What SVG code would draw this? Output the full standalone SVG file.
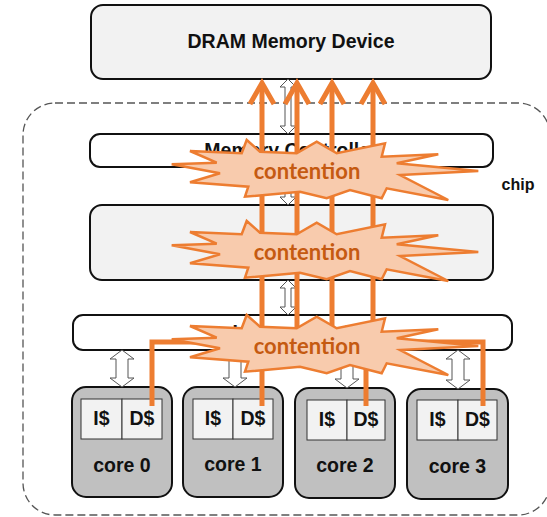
<svg xmlns="http://www.w3.org/2000/svg" xmlns:xlink="http://www.w3.org/1999/xlink" width="547" height="517" viewBox="0 0 547 517">
<style>
.lbl{font-family:"Liberation Sans",Arial,sans-serif;font-weight:bold;font-size:19.5px;fill:#111;text-anchor:middle}
.bar{stroke:#111;stroke-width:2}
.core{fill:#c0c0c0;stroke:#111;stroke-width:2}
.cache{fill:#f2f2f2;stroke:#333;stroke-width:1}
.harrow{fill:#fff;stroke:#555;stroke-width:1}
.wire{fill:none;stroke:#ED7D31;stroke-width:5;stroke-linejoin:miter}
.burst{fill:#F8CBAD;stroke:#ED7D31;stroke-width:2.5;stroke-linejoin:miter}
.ct{font-family:Lato,"Open Sans",sans-serif;font-weight:bold;font-size:22px;fill:#C55A11;text-anchor:middle}
</style>
<defs>
<polygon id="burstShape" class="burst" points="171.7,164.3 216.7,162.7 190,151 241.7,153.3 246.7,140 260,151.7 296.7,153.3 316.7,141.7 336.7,153.3 385,143.3 381.7,156.7 438.3,154.3 396.7,163.3 478.3,171 400,175 448.3,200 386.7,188.3 381.7,198.3 350,190 326.7,198.3 300,191.7 245,196.7 248.3,186.7 190,182.3 220,173.3"/>
<path id="thinArrow" class="harrow" d="M0,0 L8,7 L3,7 L3,-7 Z"/>
</defs>
<g id="chip">
<rect x="23" y="103" width="527" height="412" rx="32" fill="none" stroke="#555" stroke-width="1.3" stroke-dasharray="8 4"/>
<text x="518" y="190" class="lbl" style="font-size:16px">chip</text>
</g>
<g id="dram">
<rect x="91" y="5" width="400" height="74" rx="12" class="bar" fill="#f2f2f2"/>
<text x="291" y="48" class="lbl">DRAM Memory Device</text>
</g>
<g id="memctrl">
<rect x="90" y="134" width="403" height="33" rx="10" class="bar" fill="#fff"/>
<text x="291" y="157" class="lbl">Memory Controller</text>
</g>
<g id="sharedcache">
<rect x="90" y="205" width="403" height="75" rx="12" class="bar" fill="#f2f2f2"/>
<text x="291" y="249" class="lbl">Shared Cache</text>
</g>
<g id="interconnect">
<rect x="73" y="315" width="439" height="35" rx="10" class="bar" fill="#fff"/>
<text x="291" y="339" class="lbl">Interconnect</text>
</g>
<g id="core0">
<rect x="72" y="387" width="100" height="110" rx="14" class="core"/>
<rect x="81" y="399" width="41" height="40" class="cache"/>
<rect x="122" y="399" width="40" height="40" class="cache"/>
<text x="101.5" y="425" class="lbl">I$</text>
<text x="142" y="425" class="lbl">D$</text>
<text x="122" y="472" class="lbl">core 0</text>
</g>
<g id="core1">
<rect x="183" y="387" width="100" height="110" rx="14" class="core"/>
<rect x="193" y="399" width="40" height="40" class="cache"/>
<rect x="233" y="399" width="40" height="40" class="cache"/>
<text x="213" y="425" class="lbl">I$</text>
<text x="253" y="425" class="lbl">D$</text>
<text x="233" y="471" class="lbl">core 1</text>
</g>
<g id="core2">
<rect x="295" y="388" width="100" height="110" rx="14" class="core"/>
<rect x="307" y="400" width="40" height="40" class="cache"/>
<rect x="347" y="400" width="38" height="40" class="cache"/>
<text x="327" y="426" class="lbl">I$</text>
<text x="366" y="426" class="lbl">D$</text>
<text x="345" y="472" class="lbl">core 2</text>
</g>
<g id="core3">
<rect x="407" y="389" width="101" height="110" rx="14" class="core"/>
<rect x="417" y="400" width="41" height="40" class="cache"/>
<rect x="458" y="400" width="39" height="40" class="cache"/>
<text x="437.5" y="426" class="lbl">I$</text>
<text x="477.5" y="426" class="lbl">D$</text>
<text x="457.5" y="473" class="lbl">core 3</text>
</g>
<g id="connectors">
<path class="harrow" d="M288,79 L296,87 L291,87 L291,126 L296,126 L288,134 L280,126 L285,126 L285,87 L280,87 Z"/>
<path class="harrow" d="M288,167 L296,175 L291,175 L291,197 L296,197 L288,205 L280,197 L285,197 L285,175 L280,175 Z"/>
<path class="harrow" d="M288,280 L296,288 L291,288 L291,307 L296,307 L288,315 L280,307 L285,307 L285,288 L280,288 Z"/>
<path class="harrow" d="M122,350 L134,359 L128,359 L128,378 L134,378 L122,387 L110,378 L116,378 L116,359 L110,359 Z"/>
<path class="harrow" d="M235,350 L247,359 L241,359 L241,378 L247,378 L235,387 L223,378 L229,378 L229,359 L223,359 Z"/>
<path class="harrow" d="M347,350 L359,359 L353,359 L353,379 L359,379 L347,388 L335,379 L341,379 L341,359 L335,359 Z"/>
<path class="harrow" d="M458,350 L470,359 L464,359 L464,380 L470,380 L458,389 L446,380 L452,380 L452,359 L446,359 Z"/>
<path class="wire" d="M262,406 V83"/>
<path class="wire" d="M152,406 V342 H297 V83"/>
<path class="wire" d="M366,406 V336 H373 V83"/>
<path class="wire" d="M483,406 V342 H332 V83"/>
<polyline class="wire" points="250,104 262,83 274,104"/>
<polyline class="wire" points="285,104 297,83 309,104"/>
<polyline class="wire" points="320,104 332,83 344,104"/>
<polyline class="wire" points="361,104 373,83 385,104"/>
</g>
<g id="contention1">
<use xlink:href="#burstShape"/>
<text x="307" y="179" class="ct">contention</text>
</g>
<g id="contention2">
<use xlink:href="#burstShape" transform="translate(0,81)"/>
<text x="307" y="260" class="ct">contention</text>
</g>
<g id="contention3">
<use xlink:href="#burstShape" transform="translate(0,175)"/>
<text x="307" y="354" class="ct">contention</text>
</g>
</svg>
